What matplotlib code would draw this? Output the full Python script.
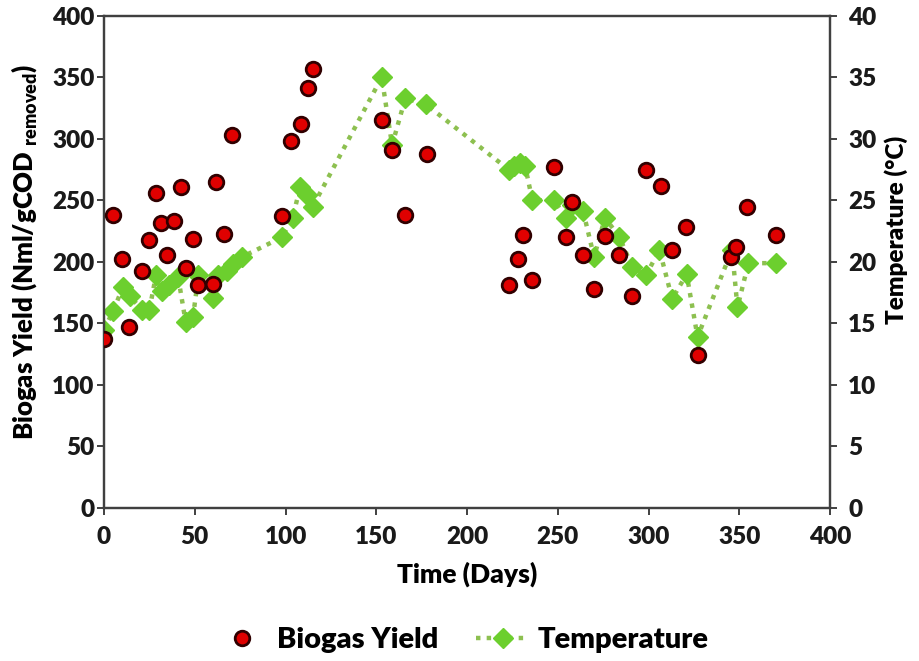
import matplotlib
matplotlib.use("Agg")
import matplotlib.pyplot as plt
from matplotlib.lines import Line2D

plt.rcParams['font.family'] = ['Lato', 'DejaVu Sans']
plt.rcParams['font.weight'] = 'heavy'
plt.rcParams['mathtext.fontset'] = 'custom'
plt.rcParams['mathtext.rm'] = 'Lato'

# biogas yield (Nml/gCOD removed) vs day
bio_days = [0, 5, 10, 14, 21, 25, 28.6, 31.4, 34.7, 38.6, 42.4, 45, 49, 52, 60,
            61.7, 66, 70.5, 98, 103, 108.5, 112.4, 115, 153, 158.7, 166, 178,
            223, 228, 231, 236, 248, 254.5, 258, 264, 270, 276, 284, 291,
            298.6, 307, 313, 320.7, 327, 345.5, 348, 354, 370]
bio_yield = [137, 238, 202, 147, 193, 218, 256, 232, 206, 233, 261, 195, 219, 181, 182,
             265, 223, 303, 237, 298, 312, 341, 357, 315, 291, 238, 288,
             181, 202, 222, 185, 277, 220, 249, 206, 178, 221, 206, 172,
             275, 262, 210, 228, 124, 204, 212, 245, 222]

# temperature (°C) vs day
temp_days = [0, 5, 10.5, 14.3, 21, 25, 28.6, 32, 36, 40.8, 45, 49, 52, 60, 63, 68, 71, 76,
             98, 104, 108, 112, 115, 153, 158.7, 166, 177.4,
             223, 226, 229, 232, 236, 248, 254.5, 258, 264, 270, 276, 284, 291,
             298.6, 306, 313, 321, 327, 346, 349, 355, 370]
temp_vals = [14.5, 16.0, 18.0, 17.2, 16.1, 16.1, 18.9, 17.6, 18.1, 18.8, 15.1, 15.5, 18.9,
             17.1, 18.9, 19.3, 19.8, 20.4,
             22.0, 23.6, 26.1, 25.4, 24.5, 35.0, 29.5, 33.3, 32.8,
             27.5, 27.8, 28.0, 27.8, 25.0, 25.0, 23.6, 24.6, 24.1, 20.4, 23.6, 22.0, 19.6,
             18.9, 21.0, 17.0, 19.0, 13.9, 21.0, 16.3, 19.9, 19.9]

fig = plt.figure(figsize=(9.19, 6.61), dpi=100)
ax = fig.add_axes([0.1132, 0.2315, 0.79, 0.7445])
ax2 = ax.twinx()

spine_col = '#404040'
red_kw = dict(linestyle='none', marker='o', markersize=10.5, markerfacecolor='#E00000',
              markeredgecolor='#300000', markeredgewidth=2)
green_kw = dict(color='#8DC050', linestyle=(0, (1, 1.4)), linewidth=3.2, marker='D',
                markersize=10, markerfacecolor='#6CCF2E', markeredgecolor='#6CCF2E')

ax2.plot(temp_days, temp_vals, zorder=2, **green_kw)
ax.plot(bio_days, bio_yield, zorder=3, **red_kw)
ax.set_zorder(ax2.get_zorder() + 1)
ax.patch.set_visible(False)

ax.set_xlim(0, 400)
ax.set_ylim(0, 400)
ax2.set_ylim(0, 40)
ax.set_xticks(range(0, 401, 50))
ax.set_yticks(range(0, 401, 50))
ax2.set_yticks(range(0, 41, 5))

for a in (ax, ax2):
    for s in a.spines.values():
        s.set_color(spine_col)
        s.set_linewidth(1.6)
    a.tick_params(direction='out', length=5, width=1.4, color=spine_col,
                  labelsize=17.5, labelcolor='#1a1a1a')
ax.tick_params(axis='x', pad=8)
ax.tick_params(axis='y', pad=2)
ax2.tick_params(axis='y', pad=8)

ax.set_xlabel('Time (Days)', fontsize=19, fontweight='heavy', labelpad=10)
ax.set_ylabel(r'Biogas Yield (Nml/gCOD $_{\mathrm{removed}}$)', fontsize=18.5,
              fontweight='heavy', labelpad=9)
ax.yaxis.label.set_y(0.52)
ax2.set_ylabel('Temperature (°C)', fontsize=17.5, fontweight='heavy', labelpad=6)
ax2.yaxis.label.set_y(0.565)

handles = [Line2D([], [], **red_kw), Line2D([], [], **green_kw)]
fig.legend(handles, ['Biogas Yield', 'Temperature'], loc='center',
           bbox_to_anchor=(0.503, 0.032), ncol=2, frameon=False,
           handlelength=1.8, handletextpad=0.3, columnspacing=1.3,
           prop={'weight': 'heavy', 'size': 21})

fig.savefig('out.png', dpi=100)
